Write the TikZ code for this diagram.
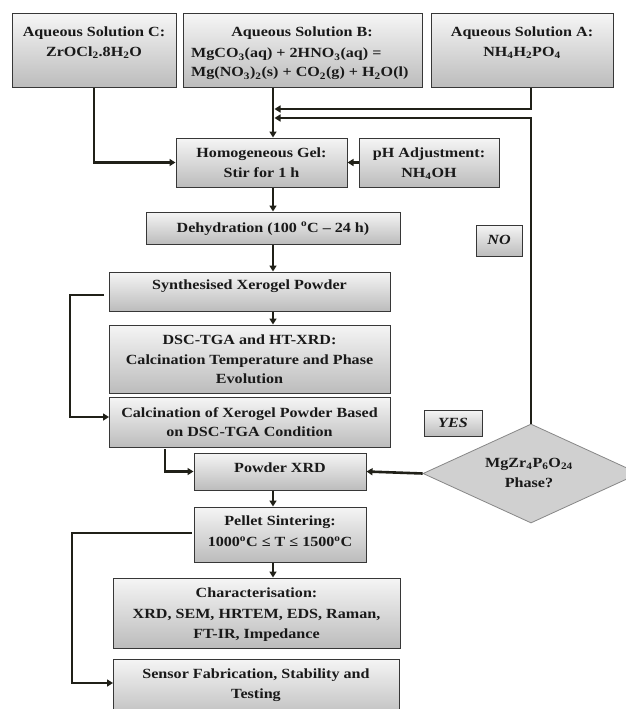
\documentclass[tikz,border=0pt]{standalone}
\usepackage{fontspec}
\setmainfont{Liberation Serif}[FakeStretch=1.15]
\usetikzlibrary{arrows.meta,shapes.geometric,shadows}
\definecolor{ln}{RGB}{32,32,24}
\definecolor{bt}{RGB}{245,245,245}
\definecolor{bb}{RGB}{188,188,188}
\definecolor{bd}{RGB}{55,55,55}
\definecolor{df}{RGB}{208,208,208}
\definecolor{dd}{RGB}{135,135,135}
\definecolor{tx}{RGB}{25,25,25}
\newcommand\sbs[1]{\textsubscript{#1}}
\newcommand\sps[1]{\textsuperscript{#1}}
\newcommand\bx[5]{\node[box,minimum width={(#4-(#2))*1pt},minimum height={(#5-(#3))*1pt}] (#1) at ({(#2+#4)/2},{(#3+#5)/2}) {};}
\begin{document}
\begin{tikzpicture}[x=1pt,y=-1pt,
  box/.style={draw=bd, line width=1pt, top color=bt, bottom color=bb, drop shadow={shadow xshift=1.3pt, shadow yshift=-1.3pt, opacity=.4}, inner sep=0pt},
  txt/.style={font=\fontsize{14}{19.5}\selectfont\bfseries, text=tx, align=center, inner sep=0pt, anchor=north},
  conn/.style={draw=ln, line width=2.6pt, -{Triangle[length=6pt,width=7pt]}},
]
\path[use as bounding box, fill=white] (0,0) rectangle (626,709);

% boxes
\bx{C}{12}{14}{176}{87}
\bx{B}{183}{14}{422}{87}
\bx{A}{431}{14}{613}{87}
\bx{homo}{176}{138}{347}{187}
\bx{ph}{359}{138}{499}{187}
\bx{dehy}{146}{212}{400}{244}
\bx{no}{476}{225}{522}{256}
\bx{synth}{109}{272}{390}{311}
\bx{dsc}{109}{325}{390}{393}
\bx{calc}{109}{397}{390}{447}
\bx{yes}{424}{410}{482}{436}
\bx{powder}{194}{453}{366}{490}
\bx{pellet}{194}{507}{366}{562}
\bx{char}{113}{578}{400}{648}
\bx{sensor}{113}{659}{399}{720}
\node[diamond, draw=dd, fill=df, line width=0.8pt, minimum width=216pt, minimum height=99pt, inner sep=0pt] (dia) at (531,473.5) {};

% texts
\node[txt] (tC) at (94,27) {Aqueous Solution C:\\ZrOCl\sbs{2}.8H\sbs{2}O};
\node[txt] (tB1) at (302,27) {Aqueous Solution B:};
\node[txt, align=left, anchor=north west, font=\fontsize{14}{19}\selectfont\bfseries] (tB2) at (191,48) {MgCO\sbs{3}(aq) + 2HNO\sbs{3}(aq) =\\Mg(NO\sbs{3})\sbs{2}(s) + CO\sbs{2}(g) + H\sbs{2}O(l)};
\node[txt] (tA) at (522,27) {Aqueous Solution A:\\NH\sbs{4}H\sbs{2}PO\sbs{4}};
\node[txt] (tH) at (261.5,148) {Homogeneous Gel:\\Stir for 1 h};
\node[txt] (tP) at (429,148) {pH Adjustment:\\NH\sbs{4}OH};
\node[txt] (tD) at (273,222) {Dehydration (100 \sps{o}C -- 24 h)};
\node[txt, font=\fontsize{14}{19.5}\selectfont\bfseries\itshape] (tNO) at (499,235) {NO};
\node[txt] (tS) at (249.5,280) {Synthesised Xerogel Powder};
\node[txt] (tT) at (249.5,335) {DSC-TGA and HT-XRD:\\Calcination Temperature and Phase\\Evolution};
\node[txt] (tK) at (249.5,407) {Calcination of Xerogel Powder Based\\on DSC-TGA Condition};
\node[txt, font=\fontsize{14}{19.5}\selectfont\bfseries\itshape] (tY) at (453,418) {YES};
\node[txt] (tX) at (280,463) {Powder XRD};
\node[txt, font=\fontsize{14}{20}\selectfont\bfseries] (tM) at (529,458) {MgZr\sbs{4}P\sbs{6}O\sbs{24}\\Phase?};
\node[txt, font=\fontsize{14}{21}\selectfont\bfseries] (tL) at (280,516) {Pellet Sintering:\\1000\sps{o}C ≤ T ≤ 1500\sps{o}C};
\node[txt, font=\fontsize{14}{20.5}\selectfont\bfseries] (tR) at (256.5,588) {Characterisation:\\XRD, SEM, HRTEM, EDS, Raman,\\FT-IR, Impedance};
\node[txt, font=\fontsize{14}{20}\selectfont\bfseries] (tF) at (256,669) {Sensor Fabrication, Stability and\\Testing};

% helper coordinates
\coordinate (m1) at (274.5,109);
\coordinate (m2) at (274.5,118);
\coordinate (sL) at (104,295);
\coordinate (sC) at (70,295);
\coordinate (cL) at (109,417);
\coordinate (cp) at (165,449);
\coordinate (pL) at (192,533);
\coordinate (pC) at (72,533);
\coordinate (fL) at (113,683);

% connectors
\draw[conn] (C.south) |- (homo.west);
\draw[conn] (B.south -| dehy.north) -- (homo.north -| dehy.north);
\draw[conn] (A.south -| dia.north) |- (m1);
\draw[conn] (dia.north) |- (m2);
\draw[conn] (ph.west) -- (homo.east);
\draw[conn] (homo.south -| dehy.north) -- (dehy.north);
\draw[conn] (dehy.south) -- (synth.north -| dehy.south);
\draw[conn] (synth.south -| dehy.south) -- (dsc.north -| dehy.south);
\draw[conn] (sL) -- (sC) |- (cL);
\draw[conn] (cp) |- (powder.west);
\draw[conn] (dia.west) -- (powder.east);
\draw[conn] (powder.south -| dehy.south) -- (pellet.north -| dehy.south);
\draw[conn] (pellet.south -| dehy.south) -- (char.north -| dehy.south);
\draw[conn] (pL) -- (pC) |- (fL);
\end{tikzpicture}
\end{document}
